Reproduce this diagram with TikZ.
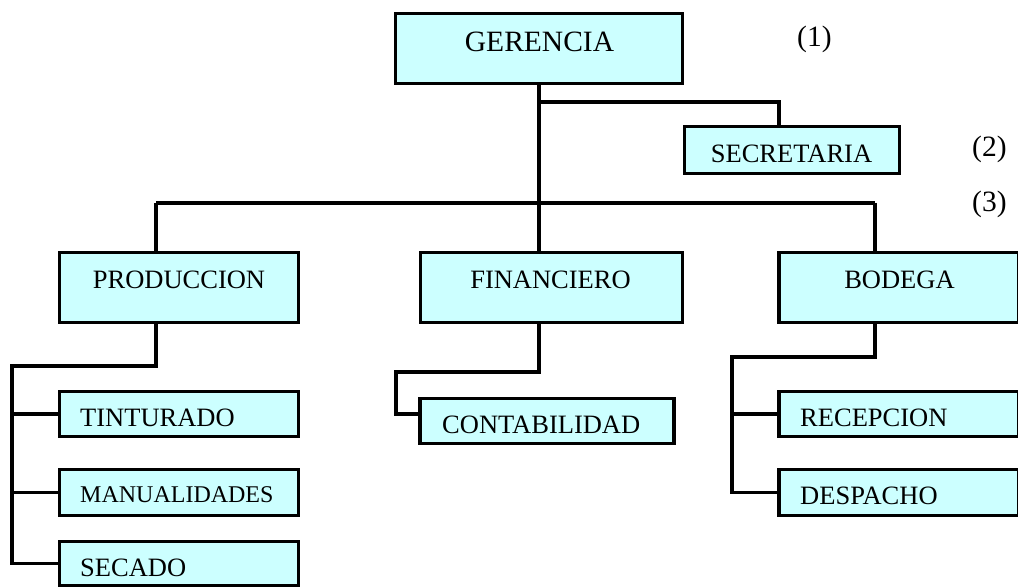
\documentclass[tikz,border=0pt]{standalone}
\usepackage{fontspec}
\setmainfont{Liberation Serif}
\begin{document}
\begin{tikzpicture}[x=1pt,y=1pt,
  box/.style={draw=black, line width=3.5pt, fill=boxfill, rectangle, inner sep=0pt},
  lbl/.style={inner sep=0pt, font=\fontsize{26.5}{30}\selectfont},
  big/.style={inner sep=0pt, font=\fontsize{29.5}{33}\selectfont},
  main/.style={line width=4pt},
  sub/.style={line width=3.5pt}]
\definecolor{boxfill}{HTML}{CCFFFF}
\useasboundingbox (0,0) rectangle (1018,-588);
% boxes
\node[box, minimum width=287, minimum height=70] (ger) at (539,-48.5) {};
\node[box, minimum width=215, minimum height=47] (sec) at (792,-150) {};
\node[box, minimum width=239, minimum height=70] (prod) at (179,-287.5) {};
\node[box, minimum width=262, minimum height=70] (fin) at (551.5,-287.5) {};
\node[box, minimum width=240, minimum height=70] (bod) at (899,-287.5) {};
\node[box, minimum width=239, minimum height=45] (tin) at (179,-414) {};
\node[box, minimum width=239, minimum height=46] (man) at (179,-492.5) {};
\node[box, minimum width=239, minimum height=44] (seca) at (179,-563.5) {};
\node[box, minimum width=254, minimum height=45] (cont) at (547,-421) {};
\node[box, minimum width=240, minimum height=45] (rec) at (899,-414) {};
\node[box, minimum width=240, minimum height=46] (des) at (899,-492.5) {};
% texts
\node[big, anchor=base] (gerT) at (539.5,-52) {GERENCIA};
\node[lbl, anchor=base] (secT) at (791.5,-163) {SECRETARIA};
\node[lbl, anchor=base] (prodT) at (179,-288) {PRODUCCION};
\node[lbl, anchor=base] (finT) at (550.5,-288) {FINANCIERO};
\node[lbl, anchor=base] (bodT) at (899.5,-288) {BODEGA};
\node[lbl, anchor=base west] (tinT) at (80,-426) {TINTURADO};
\node[lbl, anchor=base west, font=\fontsize{24}{28}\selectfont] (manT) at (80,-502) {MANUALIDADES};
\node[lbl, anchor=base west] (secaT) at (80,-576) {SECADO};
\node[lbl, anchor=base west] (contT) at (442,-433) {CONTABILIDAD};
\node[lbl, anchor=base west] (recT) at (800,-426) {RECEPCION};
\node[lbl, anchor=base west] (desT) at (800,-504) {DESPACHO};
\node[big, anchor=base west] (n1) at (797,-47) {(1)};
\node[big, anchor=base west] (n2) at (972,-157) {(2)};
\node[big, anchor=base west] (n3) at (972,-212) {(3)};
% connector coordinates
\coordinate (j1) at (539,-102);
\coordinate (s1) at (779,-102);
\coordinate (b1) at (156,-203);
\coordinate (b2) at (875,-203);
\coordinate (p1) at (156,-366);
\coordinate (p2) at (12,-366);
\coordinate (f1) at (539,-372);
\coordinate (f2) at (396,-372);
\coordinate (f3) at (396,-414);
\coordinate (c1) at (419,-414);
\coordinate (d1) at (875,-357);
\coordinate (d2) at (732,-357);
% main connectors
\draw[main] (ger.south) -- (ger.south |- fin.north);
\draw[main] (j1) -- (s1) -- (s1 |- sec.north);
\draw[main] (b1) -- (b2);
\draw[main] (b1) -- (b1 |- prod.north);
\draw[main] (b2) -- (b2 |- bod.north);
% production
\draw[sub] (b1 |- prod.south) -- (p1) -- (p2) |- (seca.west);
\draw[sub] (p2 |- tin.west) -- (tin.west);
\draw[sub] (p2 |- man.west) -- (man.west);
% finance
\draw[sub] (f1 |- fin.south) -- (f1) -- (f2) -- (f3) -- (c1);
% warehouse
\draw[sub] (d1 |- bod.south) -- (d1) -- (d2) |- (des.west);
\draw[sub] (d2 |- rec.west) -- (rec.west);
\end{tikzpicture}
\end{document}
